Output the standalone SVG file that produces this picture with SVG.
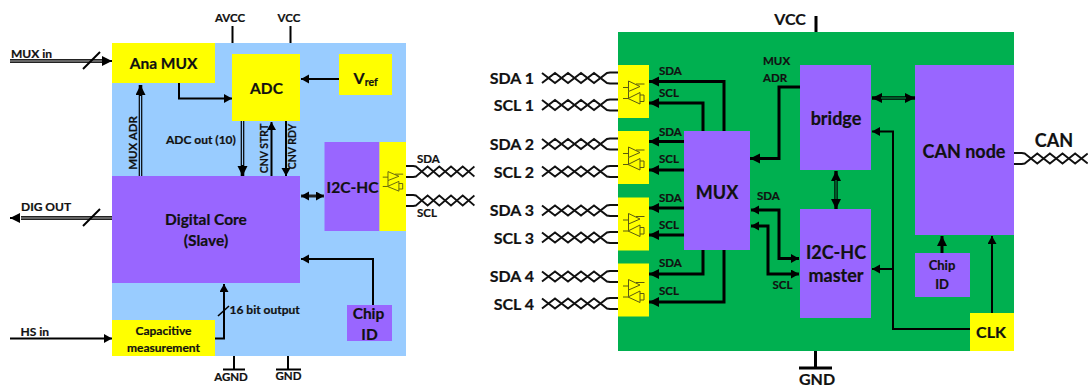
<svg xmlns="http://www.w3.org/2000/svg" xmlns:xlink="http://www.w3.org/1999/xlink" width="1088" height="387" viewBox="0 0 1088 387">
<style>
text{font-family:"Lato","Open Sans","Liberation Sans",sans-serif;font-weight:700;fill:#111;stroke:#111;stroke-width:.2}
.m{text-anchor:middle}.e{text-anchor:end}
.s10{font-size:10.500px}.s11{font-size:11.500px}.s12{font-size:12px}.s13{font-size:13px}.s15{font-size:15.500px}.s16{font-size:16px}.s17{font-size:18px}
.blue{fill:#99CCFF}.green{fill:#00B050}.yellow{fill:#FFFF00}.purple{fill:#9966FF}
.l{fill:none;stroke:#000;stroke-width:2}
.t{fill:none;stroke:#000;stroke-width:3}
.n{fill:none;stroke:#000;stroke-width:1.6}
.tw{fill:none;stroke:#111;stroke-width:2}
.drv{fill:none;stroke:#5a5a10;stroke-width:1}
</style>
<defs>
<marker id="a" markerUnits="userSpaceOnUse" markerWidth="9" markerHeight="10" refX="8" refY="4.5" orient="auto-start-reverse"><path d="M0,0L8,4.5L0,9Z" fill="#000"/></marker>
<marker id="b" markerUnits="userSpaceOnUse" markerWidth="12" markerHeight="11" refX="10" refY="5" orient="auto-start-reverse"><path d="M0,0L10,5L0,10Z" fill="#000"/></marker>
<symbol id="twist" overflow="visible" width="1" height="1"><path class="tw" d="M0,-5.500H-8L-11,-5L-24,5L-37,-5L-50,5L-63,-5L-76,5"/><path class="tw" d="M0,5.500H-8L-11,5L-24,-5L-37,5L-50,-5L-63,5L-76,-5"/></symbol>
<symbol id="drv" overflow="visible" width="1" height="1"><path class="drv" d="M10.500,16V26.500L22,21.500ZM22,27.500V39L10,33.500ZM18,19H26.500M5,22.500H10.500M5,33.500H10M22,36.500H26V30H22M10.500,26.500V33"/></symbol>
</defs>

<g id="panel-left"><rect class="blue" x="112" y="43" width="294" height="313"/></g>
<g id="panel-right"><rect class="green" x="618" y="32" width="396" height="319"/></g>

<g id="connectors">
<path class="l" d="M232.500,26V43M290.500,26V43"/>
<path d="M10,61H104" fill="none" stroke="#222" stroke-width="4"/><path d="M10,61H104" fill="none" stroke="#aaa" stroke-width="1.200"/><path d="M104,61H112" class="l" marker-end="url(#b)"/>
<path class="l" d="M83,69L100,52"/>
<path d="M21,218H112" fill="none" stroke="#222" stroke-width="4"/><path d="M21,218H112" fill="none" stroke="#aaa" stroke-width="1.200"/><path d="M20,218H10" class="l" marker-end="url(#b)"/>
<path class="l" d="M83,226L100,209"/>
<path class="l" d="M179,83V98.500H232" marker-end="url(#a)"/>
<path d="M140.500,176V85" fill="none" stroke="#000" stroke-width="3.600" marker-end="url(#b)"/><path d="M140.500,176V96" fill="none" stroke="#99CCFF" stroke-width="1.200"/>
<path d="M242.500,121V176" fill="none" stroke="#000" stroke-width="3.600" marker-end="url(#b)"/><path d="M242.500,121V165" fill="none" stroke="#99CCFF" stroke-width="1.200"/>
<path class="l" d="M271.500,176V122" marker-end="url(#a)"/>
<path class="l" d="M286,121V176" marker-end="url(#a)"/>
<path class="l" d="M339,79H301" marker-end="url(#a)"/>
<path d="M301,196H324" fill="none" stroke="#222" stroke-width="3" marker-start="url(#a)" marker-end="url(#a)"/>
<path class="l" d="M373,305V259H301" marker-end="url(#a)"/>
<path class="l" d="M10,338.500H112" marker-end="url(#a)"/>
<path class="l" d="M215,338.500H224V284" marker-end="url(#a)"/>
<path class="n" d="M218,316L229,306"/>
<path class="l" d="M234,356V369M223,369.500H245M288,356V369M276,369.500H301"/>

<use xlink:href="#twist" href="#twist" transform="translate(406,171.500) scale(-.9,1)"/>
<use xlink:href="#twist" href="#twist" transform="translate(406,200.500) scale(-.9,1)"/>

<use xlink:href="#twist" href="#twist" transform="translate(618,78)"/>
<use xlink:href="#twist" href="#twist" transform="translate(618,105)"/>
<use xlink:href="#twist" href="#twist" transform="translate(618,144)"/>
<use xlink:href="#twist" href="#twist" transform="translate(618,171.500)"/>
<use xlink:href="#twist" href="#twist" transform="translate(618,210.500)"/>
<use xlink:href="#twist" href="#twist" transform="translate(618,237.500)"/>
<use xlink:href="#twist" href="#twist" transform="translate(618,276.500)"/>
<use xlink:href="#twist" href="#twist" transform="translate(618,303.500)"/>
<use xlink:href="#twist" href="#twist" transform="translate(1014,158.500) scale(-.97,1)"/>

<path class="t" d="M816,16V32M815.500,351V368M799,368H832"/>
<path class="t" d="M724,131V81.500H649" marker-end="url(#b)"/>
<path class="t" d="M703,131V103H649" marker-end="url(#b)"/>
<path class="t" d="M684,141.500H649" marker-end="url(#b)"/>
<path class="t" d="M684,170H649" marker-end="url(#b)"/>
<path class="t" d="M684,208H649" marker-end="url(#b)"/>
<path class="t" d="M684,235H649" marker-end="url(#b)"/>
<path class="t" d="M703,250V274H649" marker-end="url(#b)"/>
<path class="t" d="M724,250V302H649" marker-end="url(#b)"/>
<path class="t" d="M800,87H779V158.500H750" marker-end="url(#b)"/>
<path class="t" d="M751,210H779V258.500H799" marker-start="url(#a)" marker-end="url(#a)"/>
<path class="t" d="M751,226H768V274H799" marker-start="url(#a)" marker-end="url(#a)"/>
<path d="M872,98H915" fill="none" stroke="#000" stroke-width="3.400" marker-start="url(#b)" marker-end="url(#b)"/><path d="M881,98H906" fill="none" stroke="#00B050" stroke-width="1"/>
<path d="M836,171V209" fill="none" stroke="#000" stroke-width="3.400" marker-start="url(#b)" marker-end="url(#b)"/><path d="M836,180V199" fill="none" stroke="#00B050" stroke-width="1"/>
<path class="l" d="M970,329H893V131.500H872" marker-end="url(#a)"/>
<path class="l" d="M893,269H872" marker-end="url(#a)"/>
<path class="t" d="M942,253V236" marker-end="url(#b)"/>
<path class="l" d="M992,313V236" marker-end="url(#a)"/>
</g>

<g id="ana-mux"><rect class="yellow" x="112" y="43" width="103" height="40"/><text class="m s15" x="163.500" y="68.500">Ana MUX</text></g>
<g id="adc"><rect class="yellow" x="232" y="54" width="68" height="67"/><text class="m s15" x="266.500" y="94">ADC</text></g>
<g id="vref"><rect class="yellow" x="339" y="54" width="53" height="41"/><text x="353.500" y="84" class="s16">V<tspan font-size="10.500" dy="2">ref</tspan></text></g>
<g id="digital-core"><rect class="purple" x="112" y="176" width="188" height="107"/><text class="m s15" x="206" y="225">Digital Core</text><text class="m s15" x="206" y="246">(Slave)</text></g>
<g id="i2c-hc"><rect class="purple" x="324.500" y="142" width="55" height="89"/><text class="m s15" x="352.500" y="193">I2C-HC</text></g>
<g id="io-left"><rect class="yellow" x="379.500" y="142" width="26.500" height="89"/><use xlink:href="#drv" href="#drv" transform="translate(378,158) scale(.95,.85)"/></g>
<g id="capacitive"><rect class="yellow" x="112" y="320" width="103" height="36"/><text class="m s12" x="163.500" y="334.500">Capacitive</text><text class="m s12" x="163.500" y="351.500">measurement</text></g>
<g id="chip-id-left"><rect class="purple" x="347" y="305" width="45" height="36"/><text class="m s15" x="368.500" y="319">Chip</text><text class="m s15" x="369.500" y="340">ID</text></g>

<g id="labels-left">
<text class="s12" x="11" y="58">MUX in</text>
<text class="s12" x="21" y="211">DIG OUT</text>
<text class="s12" x="20.500" y="336">HS in</text>
<text class="m s11" x="230" y="22">AVCC</text>
<text class="m s11" x="289" y="22">VCC</text>
<text class="s12" x="166" y="144">ADC out (10)</text>
<text class="s12" x="229.500" y="314">16 bit output</text>
<text class="m s11" transform="translate(137,143) rotate(-90)">MUX ADR</text>
<text class="m s10" transform="translate(268,148.500) rotate(-90)">CNV STRT</text>
<text class="m s10" transform="translate(296,146.500) rotate(-90)">CNV RDY</text>
<text class="s11" x="417" y="163">SDA</text>
<text class="s11" x="417" y="217">SCL</text>
<text class="m s11" x="231" y="381">AGND</text>
<text class="m s11" x="288.500" y="380">GND</text>
</g>

<g id="io-1"><rect class="yellow" x="618" y="65" width="31" height="53"/><use xlink:href="#drv" href="#drv" transform="translate(618,65)"/></g>
<g id="io-2"><rect class="yellow" x="618" y="131" width="31" height="53"/><use xlink:href="#drv" href="#drv" transform="translate(618,131)"/></g>
<g id="io-3"><rect class="yellow" x="618" y="197.500" width="31" height="53"/><use xlink:href="#drv" href="#drv" transform="translate(618,197.500)"/></g>
<g id="io-4"><rect class="yellow" x="618" y="263.500" width="31" height="53"/><use xlink:href="#drv" href="#drv" transform="translate(618,263.500)"/></g>
<g id="mux"><rect class="purple" x="684" y="131" width="66" height="119"/><text class="m s17" x="717" y="199">MUX</text></g>
<g id="bridge"><rect class="purple" x="800" y="65" width="71" height="105"/><text class="m s17" x="836" y="125">bridge</text></g>
<g id="i2c-master"><rect class="purple" x="800" y="209" width="71" height="109"/><text class="m s17" x="836" y="259">I2C-HC</text><text class="m s17" x="836" y="282">master</text></g>
<g id="can-node"><rect class="purple" x="915" y="65" width="99" height="170"/><text class="m s17" x="964" y="158">CAN node</text></g>
<g id="chip-id-right"><rect class="purple" x="915" y="253" width="55" height="44"/><text class="m s13" x="942" y="270">Chip</text><text class="m s13" x="942" y="289">ID</text></g>
<g id="clk"><rect class="yellow" x="970" y="313" width="44" height="38"/><text class="m s16" x="991" y="338">CLK</text></g>

<g id="labels-right">
<text class="m s16" x="790" y="25">VCC</text>
<text class="m s16" x="817" y="385">GND</text>
<text class="m s17" x="1054" y="147">CAN</text>
<text class="e s16" x="534" y="84">SDA 1</text>
<text class="e s16" x="534" y="111">SCL 1</text>
<text class="e s16" x="534" y="150">SDA 2</text>
<text class="e s16" x="534" y="178">SCL 2</text>
<text class="e s16" x="534" y="216">SDA 3</text>
<text class="e s16" x="534" y="244">SCL 3</text>
<text class="e s16" x="534" y="282">SDA 4</text>
<text class="e s16" x="534" y="310">SCL 4</text>
<text class="s11" x="659" y="75">SDA</text>
<text class="s11" x="659" y="97">SCL</text>
<text class="s11" x="659" y="136">SDA</text>
<text class="s11" x="659" y="163">SCL</text>
<text class="s11" x="659" y="202">SDA</text>
<text class="s11" x="659" y="229">SCL</text>
<text class="s11" x="659" y="267">SDA</text>
<text class="s11" x="659" y="295">SCL</text>
<text class="s11" x="763" y="65">MUX</text>
<text class="s11" x="763" y="81.500">ADR</text>
<text class="s11" x="757" y="199.500">SDA</text>
<text class="s11" x="772.500" y="289">SCL</text>
</g>
</svg>
